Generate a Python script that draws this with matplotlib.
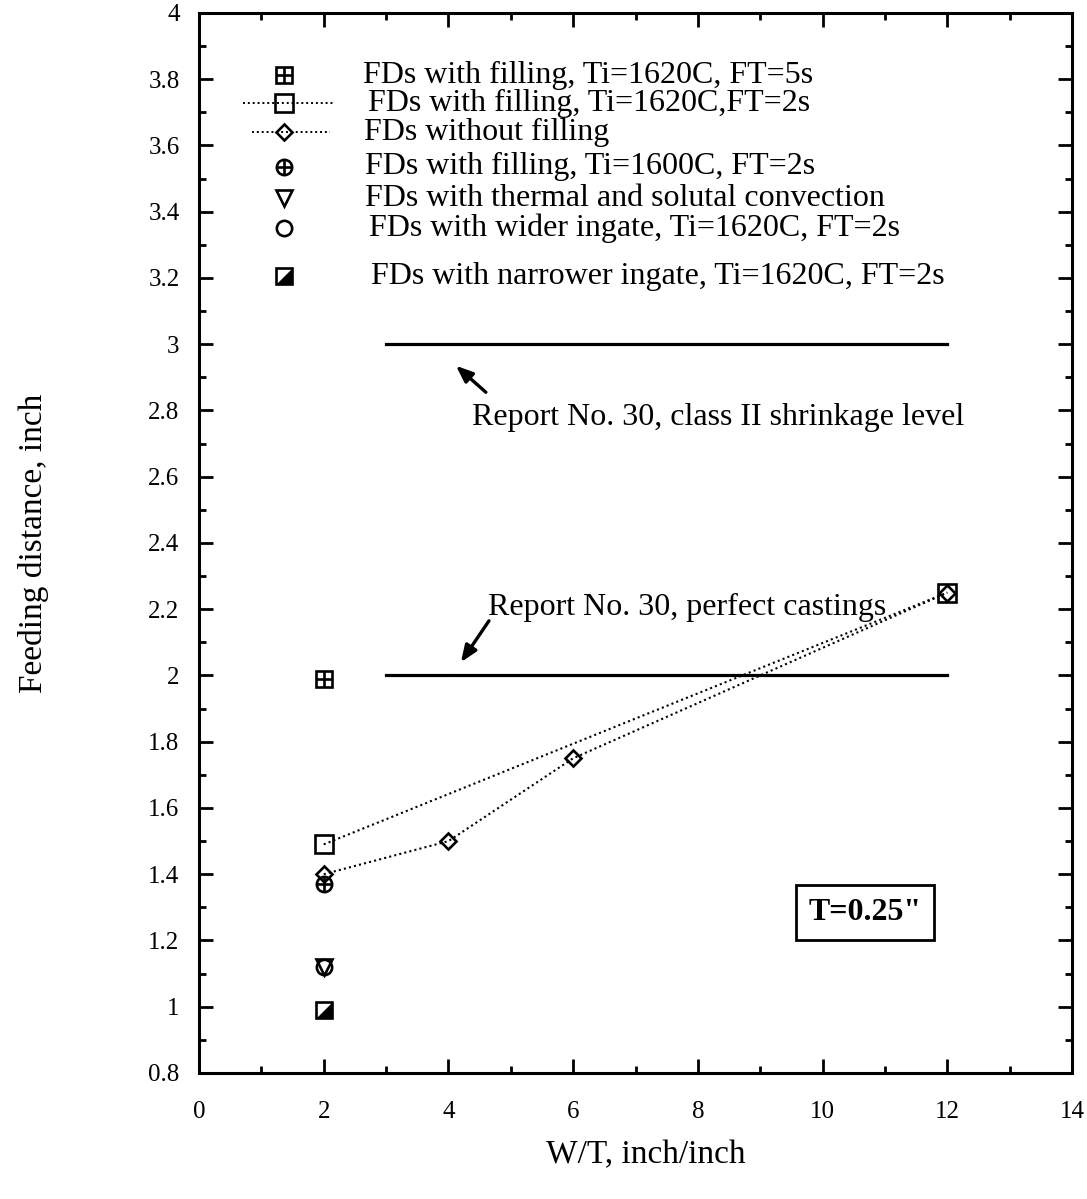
import matplotlib
matplotlib.use("Agg")
import matplotlib.pyplot as plt
from matplotlib.ticker import MultipleLocator, FuncFormatter

plt.rcParams["font.family"] = ["Liberation Serif", "DejaVu Serif"]

# ---- data -------------------------------------------------------------
wt_fill_5s = [2]
fd_fill_5s = [1.99]

wt_fill_2s = [2, 12]
fd_fill_2s = [1.49, 2.25]

wt_no_fill = [2, 4, 6, 12]
fd_no_fill = [1.40, 1.50, 1.75, 2.25]

wt_fill_1600 = [2]
fd_fill_1600 = [1.37]

wt_convection = [2]
fd_convection = [1.12]

wt_wide_ingate = [2]
fd_wide_ingate = [1.12]

wt_narrow_ingate = [2]
fd_narrow_ingate = [0.99]

report30_wt = [3, 12]
report30_class2 = 3.0
report30_perfect = 2.0

labels = [
    "FDs with filling, Ti=1620C, FT=5s",
    "FDs with filling, Ti=1620C,FT=2s",
    "FDs without filling",
    "FDs with filling, Ti=1600C, FT=2s",
    "FDs with thermal and solutal convection",
    "FDs with wider ingate, Ti=1620C, FT=2s",
    "FDs with narrower ingate, Ti=1620C, FT=2s",
]

# ---- figure -----------------------------------------------------------
fig = plt.figure(figsize=(10.87, 11.99), dpi=100)
ax = fig.add_axes([0.1831, 0.1051, 0.8031, 0.8841])

MEW = 1.9
HALF_TRI = [(-1, -1), (1, -1), (1, 1), (-1, -1)]


def draw_marker(x, y, kind, ms=11.5):
    """Draw one of the composite symbols used in the chart."""
    base = dict(linestyle="none", color="black", mew=MEW, zorder=5)
    if kind == "boxplus":
        ax.plot(x, y, marker="s", ms=ms, mfc="none", **base)
        ax.plot(x, y, marker="+", ms=ms, **base)
    elif kind == "square":
        ax.plot(x, y, marker="s", ms=ms + 1.5, mfc="none", **base)
    elif kind == "diamond":
        ax.plot(x, y, marker="D", ms=ms - 3, mfc="none", **base)
    elif kind == "oplus":
        ax.plot(x, y, marker="o", ms=ms - 0.5, mfc="none", **base)
        ax.plot(x, y, marker="+", ms=ms - 0.5, **base)
    elif kind == "tri":
        ax.plot(x, y, marker="v", ms=ms - 0.5, mfc="none", **base)
    elif kind == "circle":
        ax.plot(x, y, marker="o", ms=ms - 0.5, mfc="none", **base)
    elif kind == "halfsq":
        ax.plot(x, y, marker="s", ms=ms, mfc="white", **base)
        ax.plot(x, y, marker=HALF_TRI, ms=ms, mfc="black", mew=0,
                linestyle="none", color="black", zorder=6)


DOT = (0, (1, 1.5))

# connecting dotted lines
ax.plot(wt_fill_2s, fd_fill_2s, linestyle=DOT, color="black", lw=1.5, zorder=3)
ax.plot(wt_no_fill, fd_no_fill, linestyle=DOT, color="black", lw=1.5, zorder=3)

# data symbols
draw_marker(wt_fill_5s, fd_fill_5s, "boxplus")
draw_marker(wt_fill_2s, fd_fill_2s, "square")
draw_marker(wt_no_fill, fd_no_fill, "diamond")
draw_marker(wt_fill_1600, fd_fill_1600, "oplus")
draw_marker(wt_convection, fd_convection, "tri")
draw_marker(wt_wide_ingate, fd_wide_ingate, "circle")
draw_marker(wt_narrow_ingate, fd_narrow_ingate, "halfsq")

# Report No. 30 reference levels
ax.plot(report30_wt, [report30_class2] * 2, color="black", lw=2.3, zorder=2)
ax.plot(report30_wt, [report30_perfect] * 2, color="black", lw=2.3, zorder=2)

arrow = dict(arrowstyle="-|>,head_length=1.0,head_width=0.4",
             color="black", lw=2.4, shrinkA=0, shrinkB=0)
ax.annotate("", xy=(4.12, 2.935), xytext=(4.6, 2.855), arrowprops=arrow)
ax.text(4.38, 2.78, "Report No. 30, class II shrinkage level",
        fontsize=23, va="center", ha="left")
ax.annotate("", xy=(4.2, 2.04), xytext=(4.65, 2.165), arrowprops=arrow)
ax.text(4.63, 2.205, "Report No. 30, perfect castings",
        fontsize=23, va="center", ha="left")

# boxed thickness note
ax.text(10.68, 1.285, 'T=0.25"', fontsize=23, fontweight="bold",
        ha="center", va="center",
        bbox=dict(boxstyle="square,pad=0.4", fc="white", ec="black", lw=2.0))

# legend, drawn as symbols plus text
kinds = ["boxplus", "square", "diamond", "oplus", "tri", "circle", "halfsq"]
rows_y = [3.812, 3.728, 3.64, 3.535, 3.44, 3.35, 3.205]
text_x = [2.63, 2.71, 2.64, 2.66, 2.66, 2.72, 2.75]
leg_x = 1.36
ax.plot([0.7, 2.15], [rows_y[1]] * 2, linestyle=DOT, color="black", lw=1.4, zorder=3)
ax.plot([0.85, 2.1], [rows_y[2]] * 2, linestyle=DOT, color="black", lw=1.4, zorder=3)
for k, yy, tx, lab in zip(kinds, rows_y, text_x, labels):
    draw_marker([leg_x], [yy], k)
    ax.text(tx, yy, lab, fontsize=23, va="center", ha="left")

# axes, ticks
ax.set_xlim(0, 14)
ax.set_ylim(0.8, 4.0)
ax.xaxis.set_major_locator(MultipleLocator(2))
ax.xaxis.set_minor_locator(MultipleLocator(1))
ax.yaxis.set_major_locator(MultipleLocator(0.2))
ax.yaxis.set_minor_locator(MultipleLocator(0.1))
ax.yaxis.set_major_formatter(FuncFormatter(lambda v, p: f"{round(v, 1):g}"))
ax.tick_params(which="both", direction="in", top=True, right=True, width=2.0,
               labelsize=18)
ax.tick_params(which="major", length=10)
ax.tick_params(which="minor", length=5)
ax.tick_params(axis="x", which="major", pad=20)
ax.tick_params(axis="y", which="major", pad=14)
for s in ax.spines.values():
    s.set_linewidth(2.2)

ax.set_ylabel("Feeding distance, inch", fontsize=24)
ax.set_xlabel("W/T, inch/inch", fontsize=24)
ax.yaxis.set_label_coords(-0.19, 0.5)
ax.xaxis.set_label_coords(0.512, -0.077)
ax.xaxis.label.set_va("center")
ax.yaxis.label.set_va("center")

fig.savefig("out.png", dpi=100, facecolor="white")
